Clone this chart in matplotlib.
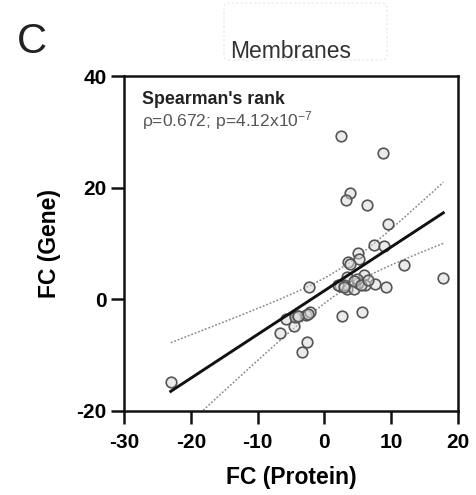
import numpy as np
import matplotlib
matplotlib.use('Agg')
import matplotlib.pyplot as plt
from matplotlib.ticker import FixedLocator
from matplotlib.patches import FancyBboxPatch

plt.rcParams['font.family'] = ['Liberation Sans', 'DejaVu Sans']
plt.rcParams['mathtext.fontset'] = 'custom'
plt.rcParams['mathtext.rm'] = 'Liberation Sans'
plt.rcParams['mathtext.it'] = 'Liberation Sans:italic'

# fold change values (protein, gene)
fcProtein = [-23.0, -6.7, -5.8, -4.6, -4.4, -3.9, -2.8, -2.2, -2.6, -3.3, -2.3,
             2.6, 5.7, 2.5, 8.8, 3.9, 3.2, 6.4, 9.5, 7.4, 8.9, 5.1, 5.2, 3.6,
             3.9, 3.4, 5.9, 2.4, 3.4, 4.4, 6.1, 7.6, 9.2, 11.9, 17.8, 5.0,
             4.9, 2.9, 2.1, -4.0, -2.5, 4.5, 5.5, 3.0, 6.5]
fcGene = [-14.8, -6.1, -3.5, -4.8, -3.2, -2.9, -2.8, -2.3, -7.6, -9.4, 2.2,
          -2.9, -2.3, 29.2, 26.2, 19.1, 17.8, 16.9, 13.5, 9.7, 9.5, 8.3, 7.3,
          6.7, 6.3, 4.0, 4.3, 2.3, 1.9, 1.9, 2.5, 2.8, 2.2, 6.1, 3.9, 3.0,
          3.7, 2.6, 2.5, -3.0, -2.6, 3.2, 2.6, 2.2, 3.4]

xTicks = [-30, -20, -10, 0, 10, 20]
yTicks = [-20, 0, 20, 40]

statTitle = "Spearman's rank"
statText = "\u03c1=0.672; p=4.12x10$^{-7}$"

x = np.array(fcProtein)
y = np.array(fcGene)

# linear fit + 95% confidence band
slope, intercept = np.polyfit(x, y, 1)
n = len(x)
xs = np.linspace(x.min(), x.max(), 200)
fit = slope*xs + intercept
resid = y - (slope*x + intercept)
s = np.sqrt(np.sum(resid**2)/(n-2))
tval = 2.017  # t(0.975, n-2)
se = s*np.sqrt(1/n + (xs - x.mean())**2/np.sum((x - x.mean())**2))

fig = plt.figure(figsize=(4.77, 4.95), dpi=100)
ax = fig.add_axes([124/477, 1-411/495, 334/477, 335/495])

ax.scatter(x, y, s=58, facecolor=(0.85, 0.85, 0.85, 0.5), edgecolor='#555555',
           linewidth=1.2, zorder=3)
ax.plot(xs, fit, color='#111111', lw=2.1, zorder=4)
ax.plot(xs, fit + tval*se, color='#8a8a8a', lw=1.1, ls=(0, (1.2, 1.2)), zorder=2)
ax.plot(xs, fit - tval*se, color='#8a8a8a', lw=1.1, ls=(0, (1.2, 1.2)), zorder=2)

ax.set_xlim(-30, 20)
ax.set_ylim(-20, 40)
ax.set_xticks(xTicks)
ax.set_yticks(yTicks)
ax.set_xticklabels([str(t) for t in xTicks], fontsize=15, fontweight='bold')
ax.set_yticklabels([str(t) for t in yTicks], fontsize=15, fontweight='bold')

# Prism style: the zero tick crosses the axis
ax.xaxis.set_minor_locator(FixedLocator([0]))
ax.yaxis.set_minor_locator(FixedLocator([0]))
ax.tick_params(which='major', direction='out', length=9.5, width=1.8, pad=6, color='#111111')
ax.tick_params(axis='y', which='major', pad=3)
ax.tick_params(which='minor', direction='in', length=9.5, width=1.8, color='#111111')

for sp in ax.spines.values():
    sp.set_linewidth(1.8)
    sp.set_color('#111111')

ax.set_xlabel('FC (Protein)', fontsize=16.5, fontweight='bold')
ax.set_ylabel('FC (Gene)', fontsize=16.5, fontweight='bold')
ax.xaxis.set_label_coords(0.5, -0.165)
ax.yaxis.set_label_coords(-0.19, 0.5)

ax.text(0.054, 0.931, statTitle, transform=ax.transAxes, fontsize=12.8,
        fontweight='bold', color='#222222', va='center', ha='left')
ax.text(0.054, 0.866, statText, transform=ax.transAxes, fontsize=12.6,
        color='#555555', va='center', ha='left')

# panel letter and title
fig.text(32/477, 1-42/495, 'C', fontsize=30, ha='center', va='center', color='#222222')
fig.text(291/477, 1-52/495, 'Membranes', fontsize=16.5, ha='center', va='center',
         color='#333333')
box = FancyBboxPatch((224/477, 1-60/495), 163/477, 57/495, transform=fig.transFigure,
                     boxstyle='round,pad=0,rounding_size=0.01', fill=False,
                     edgecolor='#e6e6e6', lw=0.8, ls=(0, (2, 2)))
fig.patches.append(box)

fig.savefig('out.png', dpi=100)
